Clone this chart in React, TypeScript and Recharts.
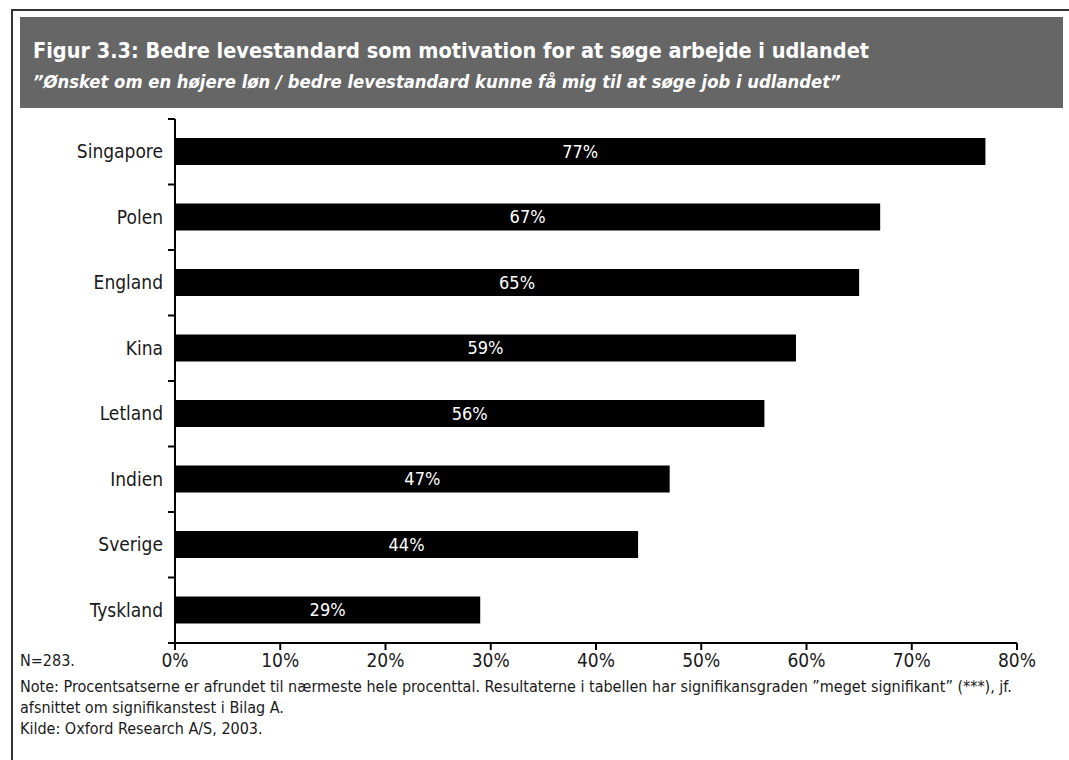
import { BarChart, Bar, XAxis, YAxis, LabelList } from 'recharts'

const categories = ['Singapore', 'Polen', 'England', 'Kina', 'Letland', 'Indien', 'Sverige', 'Tyskland']
const values = [77, 67, 65, 59, 56, 47, 44, 29]
const xTicks = [0, 10, 20, 30, 40, 50, 60, 70, 80]

const data = categories.map((name, i) => ({ name, value: values[i] }))

const FONT = '"DejaVu Sans Condensed", "Liberation Sans Narrow", sans-serif'

// category label plus a short tick on the band boundary (above, and below for the last one)
const CatTick = (props: any) => {
  const { x, y, payload, index } = props
  const half = payload?.offset ?? 0
  const axisX = x + 8
  return (
    <g>
      <line x1={axisX - 7} x2={axisX} y1={y - half} y2={y - half} stroke="#000" strokeWidth={2} />
      {index === categories.length - 1 && (
        <line x1={axisX - 7} x2={axisX} y1={y + half} y2={y + half} stroke="#000" strokeWidth={2} />
      )}
      <text x={x - 4} y={y} dy="0.35em" textAnchor="end" fill="#1a1a1a" fontSize={19} fontFamily={FONT}>
        {payload.value}
      </text>
    </g>
  )
}

export default function App() {
  return (
    <div style={{ position: 'absolute', left: 0, top: 0, width: 1069, height: 760, background: '#fff', fontFamily: FONT }}>
      <div style={{ position: 'absolute', left: 11, top: 9, right: 0, height: 2, background: '#333' }} />
      <div style={{ position: 'absolute', left: 11, top: 9, width: 2, bottom: 0, background: '#333' }} />
      <div style={{ position: 'absolute', left: 20, top: 17, width: 1043, height: 91, background: '#666', color: '#fff' }}>
        <div style={{ position: 'absolute', left: 13, top: 21, fontSize: 21.5, fontWeight: 'bold', whiteSpace: 'nowrap' }}>
          Figur 3.3: Bedre levestandard som motivation for at søge arbejde i udlandet
        </div>
        <div style={{ position: 'absolute', left: 13, top: 54, fontSize: 18.3, fontWeight: 'bold', fontStyle: 'italic', whiteSpace: 'nowrap' }}>
          ”Ønsket om en højere løn / bedre levestandard kunne få mig til at søge job i udlandet”
        </div>
      </div>

      <div style={{ position: 'absolute', left: 0, top: 0 }}>
        <BarChart layout="vertical" width={1069} height={700} data={data}
          margin={{ top: 119, right: 52, left: 0, bottom: 17 }}>
          <XAxis type="number" domain={[0, 80]} ticks={xTicks} tickFormatter={(v: number) => `${v}%`}
            height={40} tickSize={7} tickMargin={4}
            axisLine={{ stroke: '#000', strokeWidth: 2 }} tickLine={{ stroke: '#000', strokeWidth: 2 }}
            tick={{ fontSize: 19, fill: '#1a1a1a', fontFamily: FONT }} />
          <YAxis type="category" dataKey="name" width={175} tickLine={false}
            axisLine={{ stroke: '#000', strokeWidth: 2 }} tick={<CatTick />} interval={0} />
          <Bar dataKey="value" fill="#000" barSize={27} isAnimationActive={false}>
            <LabelList dataKey="value" position="center" formatter={(v: any) => `${v}%`}
              fill="#fff" fontSize={18} fontFamily={FONT} />
          </Bar>
        </BarChart>
      </div>

      <div style={{ position: 'absolute', left: 20, top: 651, fontSize: 16, color: '#1a1a1a' }}>N=283.</div>
      <div style={{ position: 'absolute', left: 20, top: 676, width: 1045, fontSize: 16, lineHeight: '21px', color: '#1a1a1a' }}>
        Note: Procentsatserne er afrundet til nærmeste hele procenttal. Resultaterne i tabellen har signifikansgraden ”meget signifikant” (***), jf.
        <br />
        afsnittet om signifikanstest i Bilag A.
        <br />
        Kilde: Oxford Research A/S, 2003.
      </div>
    </div>
  )
}
